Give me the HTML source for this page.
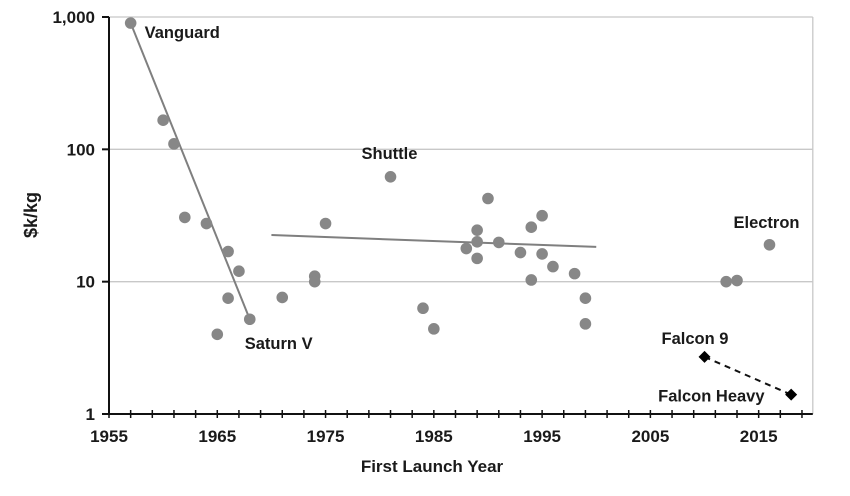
<!DOCTYPE html>
<html><head><meta charset="utf-8"><style>
body{margin:0;background:#fff;}
svg text{font-family:"Liberation Sans",Arial,sans-serif;font-weight:bold;fill:#1a1a1a;}
</style></head><body>
<svg id="chart" width="850" height="491" viewBox="0 0 850 491" xmlns="http://www.w3.org/2000/svg">
<g id="grid"></g><g id="axes"></g><g id="marks"></g><g id="labels"></g>
</svg>
<script>
const earlyYears=[1957,1960,1961,1962,1964,1966,1967,1966,1965,1968];
const earlyCosts=[900,166,110,30.6,27.5,16.9,12,7.5,4,5.2];
const laterYears=[1971,1974,1974,1975,1981,1984,1985,1988,1989,1989,1989,1990,1991,1993,1994,1994,1995,1995,1996,1998,1999,1999,2012,2013,2016];
const laterCosts=[7.6,11,10,27.5,62,6.3,4.4,17.8,24.5,20,15,42.5,19.8,16.6,25.8,10.3,31.5,16.2,13,11.5,7.5,4.8,10,10.2,19];
const spacexYears=[2010,2018];
const spacexCosts=[2.7,1.4];
const trend1Years=[1957,1968];const trend1Costs=[900,5.2];
const trend2Years=[1970,2000];const trend2Costs=[22.5,18.3];
const xTicks=[1955,1965,1975,1985,1995,2005,2015];
const yTicks=[1,10,100,1000];
const yTickLabels=["1","10","100","1,000"];
const annotations=[["Vanguard",1957,900,14,15],["Shuttle",1981,62,-29,-18],["Saturn V",1968,5.2,-5,30],["Electron",2016,19,-36,-17],["Falcon 9",2010,2.7,-43,-13],["Falcon Heavy",2018,1.4,-133,7]];

const X0=109,X1=812.8,Y0=414,Y1=17;
const x=v=>X0+(v-1955)/(2020-1955)*(X1-X0);
const y=v=>Y0-(Math.log10(v))/3*(Y0-Y1);
const NS="http://www.w3.org/2000/svg";
function mk(tag,attrs,parent,txt){const e=document.createElementNS(NS,tag);for(const k in attrs)e.setAttribute(k,attrs[k]);if(txt!==undefined)e.textContent=txt;document.getElementById(parent).appendChild(e);return e;}

[10,100,1000].forEach(v=>{const l=mk('line',{x1:X0,x2:X1,y1:y(v),y2:y(v),stroke:'#c8c8c8','stroke-width':1.3},'grid');

});
const rb=mk('line',{x1:X1,x2:X1,y1:Y1,y2:Y0,stroke:'#c8c8c8','stroke-width':1.3},'grid');


const ya=mk('line',{x1:X0,x2:X0,y1:Y1,y2:Y0,stroke:'#111','stroke-width':2},'axes');


const xa=mk('line',{x1:X0-6,x2:X1,y1:Y0,y2:Y0,stroke:'#111','stroke-width':2},'axes');


for(let yr=1955;yr<=2019;yr+=2){mk('line',{x1:x(yr),x2:x(yr),y1:Y0-4,y2:Y0+4,stroke:'#111','stroke-width':1.5},'axes');}
xTicks.forEach(v=>{const t=mk('text',{x:x(v),y:442,'text-anchor':'middle','font-size':17},'axes',String(v));

});
yTicks.forEach((v,i)=>{mk('line',{x1:X0-7,x2:X0,y1:y(v),y2:y(v),stroke:'#111','stroke-width':2},'axes');
const t=mk('text',{x:95,y:y(v)+6,'text-anchor':'end','font-size':17},'axes',yTickLabels[i]);

});
const xt=mk('text',{x:432,y:472,'text-anchor':'middle','font-size':17},'axes','First Launch Year');


const yt=mk('text',{x:0,y:0,'text-anchor':'middle','font-size':18,transform:'translate(37,215) rotate(-90)'},'axes','$k/kg');


const t1=mk('line',{x1:x(trend1Years[0]),y1:y(trend1Costs[0]),x2:x(trend1Years[1]),y2:y(trend1Costs[1]),stroke:'#7f7f7f','stroke-width':2},'marks');


const t2=mk('line',{x1:x(trend2Years[0]),y1:y(trend2Costs[0]),x2:x(trend2Years[1]),y2:y(trend2Costs[1]),stroke:'#7f7f7f','stroke-width':2},'marks');


const t3=mk('line',{x1:x(spacexYears[0]),y1:y(spacexCosts[0]),x2:x(spacexYears[1]),y2:y(spacexCosts[1]),stroke:'#111','stroke-width':2,'stroke-dasharray':'6,5'},'marks');


earlyYears.concat(laterYears).forEach((yr,i)=>{const c=earlyCosts.concat(laterCosts)[i];
const p=mk('circle',{cx:x(yr),cy:y(c),r:5.8,fill:'#878787'},'marks');

});
spacexYears.forEach((yr,i)=>{const cx=x(yr),cy=y(spacexCosts[i]);
const p=mk('polygon',{points:`${cx},${cy-6} ${cx+6},${cy} ${cx},${cy+6} ${cx-6},${cy}`,fill:'#000'},'marks');

});
annotations.forEach(a=>{const t=mk('text',{x:x(a[1])+a[3],y:y(a[2])+a[4],'font-size':16.5},'labels',a[0]);

});
</script>
</body></html>
